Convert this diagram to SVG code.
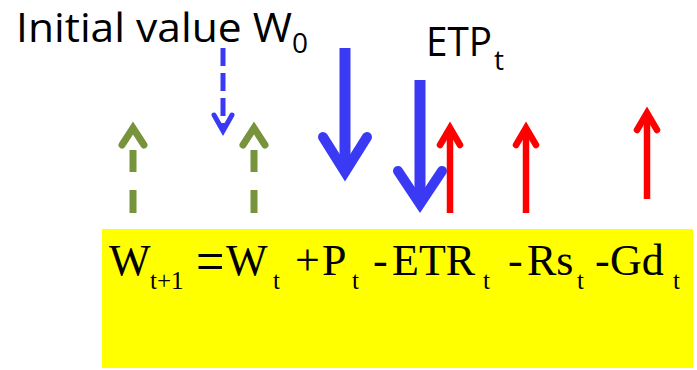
<svg xmlns="http://www.w3.org/2000/svg" width="697" height="370" viewBox="0 0 697 370">
<style>
.lbl{font-family:"Open Sans","Liberation Sans",sans-serif;fill:#000}
.eq{font-family:"Liberation Serif","Times New Roman",serif;fill:#000;font-size:44px}
.sub{font-family:"Liberation Serif","Times New Roman",serif;fill:#000;font-size:25px}
.blue{stroke:#3a3af5;fill:none}
.red{stroke:#ff0000;fill:none;stroke-width:6.5}
.green{stroke:#77933c;fill:none;stroke-width:7}
.head{stroke-linecap:round;stroke-linejoin:miter}
</style>
<rect width="697" height="370" fill="#fff"/>
<g id="equation">
<rect x="102" y="229" width="591" height="139" fill="#ffff00"/>
<text class="eq" x="109" y="275">W</text>
<text class="sub" x="150" y="289">t+1</text>
<text class="eq" x="0" y="0" style="font-size:60px" transform="translate(196,281) scale(0.84,1)">=</text>
<text class="eq" x="226" y="275">W</text>
<text class="sub" x="273" y="289">t</text>
<text class="eq" x="295" y="275">+</text>
<text class="eq" x="322" y="275">P</text>
<text class="sub" x="352" y="289">t</text>
<text class="eq" x="373" y="275">-</text>
<text class="eq" x="392" y="275">ETR</text>
<text class="sub" x="483" y="289">t</text>
<text class="eq" x="508" y="275">-</text>
<text class="eq" x="527" y="275">Rs</text>
<text class="sub" x="577" y="289">t</text>
<text class="eq" x="595" y="275">-</text>
<text class="eq" x="610" y="275">Gd</text>
<text class="sub" x="673" y="289">t</text>
</g>
<g id="label-initial">
<text class="lbl" font-size="40" x="16" y="42" textLength="276" lengthAdjust="spacingAndGlyphs">Initial value W</text>
<text class="lbl" font-size="28" x="292" y="53">0</text>
</g>
<g id="label-etp">
<text class="lbl" font-size="40" x="426" y="56" textLength="66" lengthAdjust="spacingAndGlyphs">ETP</text>
<text class="lbl" font-size="28" x="494" y="70">t</text>
</g>
<g id="connectors">
<line class="blue" x1="223" y1="48" x2="223" y2="128" stroke-width="5" stroke-dasharray="18 7"/>
<polyline class="blue head" points="214,115 223,131 232,115" stroke-width="5"/>
<line class="blue" x1="345" y1="48" x2="345" y2="172" stroke-width="11"/>
<polyline class="blue head" points="323,137 345,172 367,137" stroke-width="10"/>
<line class="blue" x1="420" y1="80" x2="420" y2="204" stroke-width="11"/>
<polyline class="blue head" points="398,171 420,204 442,171" stroke-width="10"/>
<line class="green" x1="133" y1="213" x2="133" y2="150" stroke-dasharray="23 18"/>
<polyline class="green head" points="122,145 133,128 144,145" stroke-width="6.5"/>
<line class="green" x1="254" y1="213" x2="254" y2="150" stroke-dasharray="23 18"/>
<polyline class="green head" points="243,145 254,128 265,145" stroke-width="6.5"/>
<line class="red" x1="450" y1="213" x2="450" y2="130"/>
<polyline class="red head" points="440,145 450,128 460,145"/>
<line class="red" x1="526" y1="213" x2="526" y2="130"/>
<polyline class="red head" points="516,145 526,128 536,145"/>
<line class="red" x1="647" y1="199" x2="647" y2="115"/>
<polyline class="red head" points="637,130 647,113 657,130"/>
</g>
</svg>
